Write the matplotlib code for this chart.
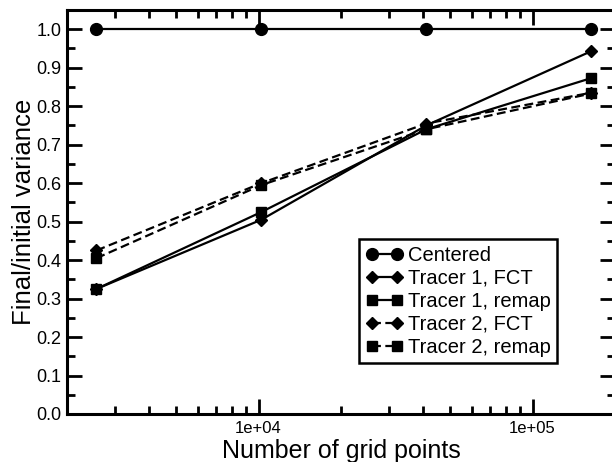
import matplotlib
matplotlib.use("Agg")
import matplotlib.pyplot as plt

plt.rcParams['font.family'] = ['Liberation Sans', 'DejaVu Sans']

# Dados
grid_points = [2562, 10242, 40962, 163842]
centered = [1.0, 1.0, 1.0, 1.0]
tracer1_fct = [0.325, 0.505, 0.750, 0.943]
tracer1_remap = [0.325, 0.525, 0.740, 0.873]
tracer2_fct = [0.425, 0.600, 0.755, 0.835]
tracer2_remap = [0.405, 0.595, 0.740, 0.833]

# Cria a figura
fig = plt.figure(figsize=(6.12, 4.62), dpi=100)
ax = fig.add_axes([67 / 612, 48 / 462, 548 / 612, 404 / 462])

dash = (0, (4, 2))
ax.plot(grid_points, centered, color='k', lw=1.6, marker='o', ms=8.5, label='Centered')
ax.plot(grid_points, tracer1_fct, color='k', lw=1.6, marker='D', ms=6.5, label='Tracer 1, FCT')
ax.plot(grid_points, tracer1_remap, color='k', lw=1.6, marker='s', ms=7, label='Tracer 1, remap')
ax.plot(grid_points, tracer2_fct, color='k', lw=1.6, ls=dash, marker='D', ms=6.5, label='Tracer 2, FCT')
ax.plot(grid_points, tracer2_remap, color='k', lw=1.6, ls=dash, marker='s', ms=7, label='Tracer 2, remap')

# Eixos
ax.set_xscale('log')
ax.set_xlim(2000, 200000)
ax.set_ylim(0, 1.05)
ax.set_xticks([1e4, 1e5])
ax.set_xticklabels(['1e+04', '1e+05'])
ax.set_yticks([i / 10 for i in range(11)])
ax.set_yticklabels(['%.1f' % (i / 10) for i in range(11)])
ax.set_yticks([i / 20 for i in range(1, 21, 2)], minor=True)

ax.tick_params(which='both', direction='in', top=True, right=True, width=2, color='k')
ax.tick_params(which='major', length=11)
ax.tick_params(which='minor', length=6)
ax.tick_params(axis='y', labelsize=13, pad=4)
ax.tick_params(axis='x', labelsize=12, pad=5)
for s in ax.spines.values():
    s.set_linewidth(2.2)

ax.set_xlabel('Number of grid points', fontsize=18, labelpad=2)
ax.set_ylabel('Final/initial variance', fontsize=18.5, labelpad=0.5)

# Legenda
leg = ax.legend(loc='upper left', bbox_to_anchor=(359 / 612, (462 - 239) / 462),
                bbox_transform=fig.transFigure, borderaxespad=0, fontsize=14.5,
                numpoints=2, handlelength=1.85, handletextpad=0.25, labelspacing=0.2,
                borderpad=0.33, fancybox=False, framealpha=1, edgecolor='k')
leg.get_frame().set_linewidth(1.8)

fig.savefig('out.png', dpi=100)
